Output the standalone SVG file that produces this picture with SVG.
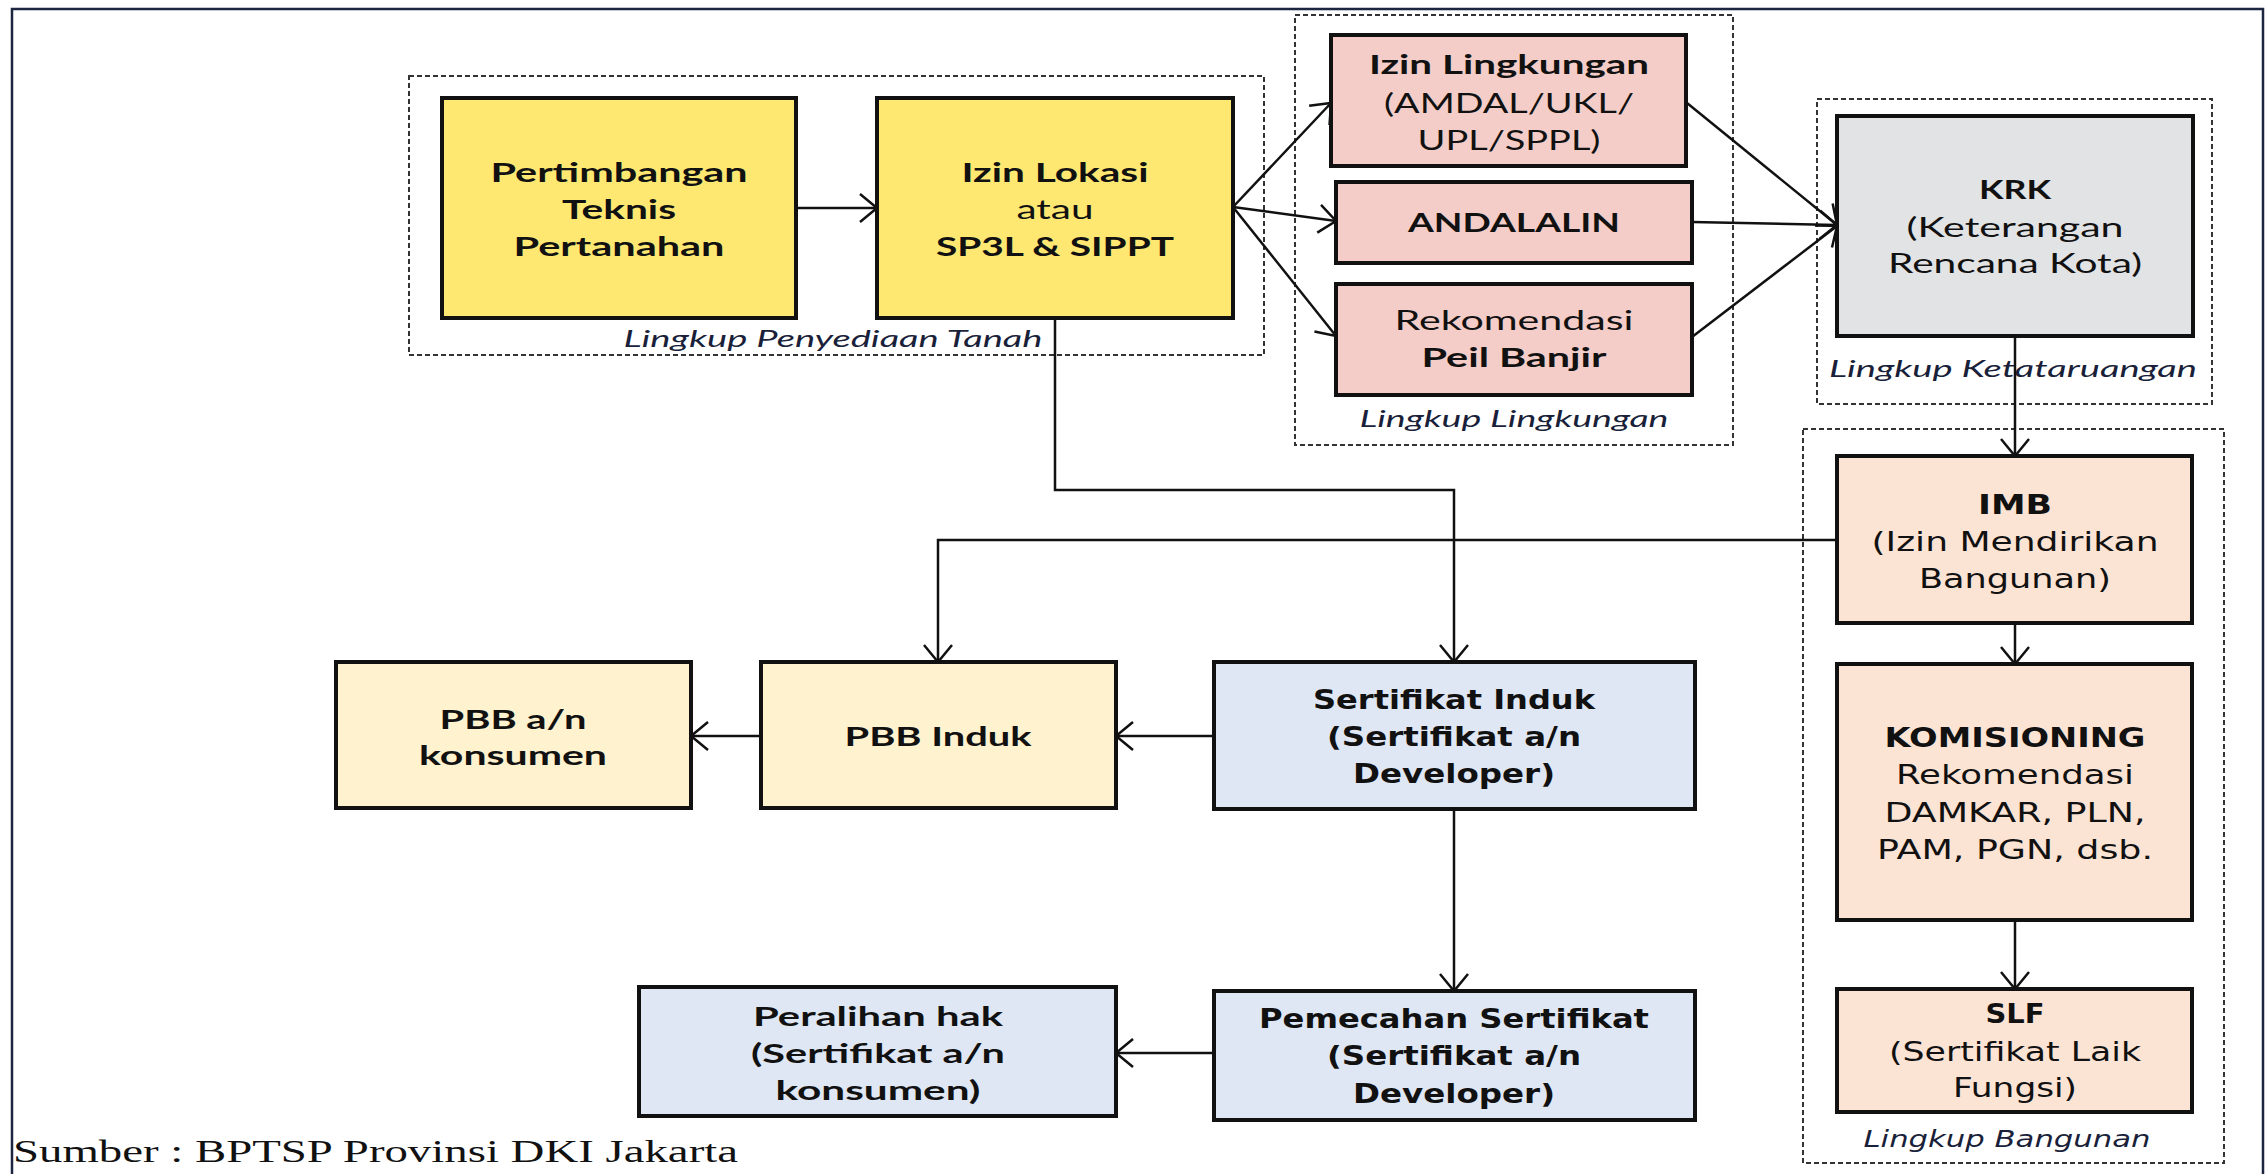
<svg xmlns="http://www.w3.org/2000/svg" width="2267" height="1174" viewBox="0 0 2267 1174">
<style>
.box{stroke:#111;stroke-width:4}
.yel{fill:#FEE872}
.pink{fill:#F4CDC8}
.grey{fill:#E2E3E5}
.peach{fill:#FCE4D5}
.cream{fill:#FFF2CE}
.blue{fill:#DFE7F4}
.grp{fill:none;stroke:#333;stroke-width:2;stroke-dasharray:5 3}
.con{fill:none;stroke:#111;stroke-width:2.5}
text{fill:#111;text-anchor:middle}
.c{font-family:Lato,"Liberation Sans",sans-serif;font-size:26px}
.v{font-family:"DejaVu Sans","Liberation Sans",sans-serif;font-size:26px}
.b{font-weight:bold}
.lab{font-style:italic;font-size:23px;fill:#1a1f3a}
.src{font-family:"Liberation Serif",serif;font-size:32px;text-anchor:start}
</style>
<defs>
<marker id="arr" viewBox="-20 -16 22 32" markerWidth="22" markerHeight="32" refX="0" refY="0" orient="auto" markerUnits="userSpaceOnUse">
<path d="M-17,-14 L0,0 L-17,14" fill="none" stroke="#111" stroke-width="2.5"/>
</marker>
</defs>
<rect x="12" y="9" width="2251" height="1200" fill="none" stroke="#1c2640" stroke-width="2.5"/>

<g id="groups">
<g id="grp-tanah"><rect class="grp" x="409" y="76" width="855" height="279"/><text class="c lab" x="833" y="347" textLength="419" lengthAdjust="spacingAndGlyphs">Lingkup Penyediaan Tanah</text></g>
<g id="grp-lingkungan"><rect class="grp" x="1295" y="15" width="438" height="430"/><text class="c lab" x="1514" y="427" textLength="309" lengthAdjust="spacingAndGlyphs">Lingkup Lingkungan</text></g>
<g id="grp-tata"><rect class="grp" x="1817" y="99" width="395" height="305"/><text class="c lab" x="2013" y="377" textLength="368" lengthAdjust="spacingAndGlyphs">Lingkup Ketataruangan</text></g>
<g id="grp-bangunan"><rect class="grp" x="1803" y="429" width="421" height="734"/><text class="v lab" x="2007" y="1147" textLength="287" lengthAdjust="spacingAndGlyphs">Lingkup Bangunan</text></g>
</g>

<g id="connectors">
<line class="con" x1="796" y1="208" x2="877" y2="208" marker-end="url(#arr)"/>
<line class="con" x1="1233" y1="207" x2="1331" y2="103" marker-end="url(#arr)"/>
<line class="con" x1="1233" y1="207" x2="1336" y2="221" marker-end="url(#arr)"/>
<line class="con" x1="1233" y1="207" x2="1336" y2="336" marker-end="url(#arr)"/>
<line class="con" x1="1687" y1="103" x2="1837" y2="225" marker-end="url(#arr)"/>
<line class="con" x1="1692" y1="222" x2="1837" y2="225" marker-end="url(#arr)"/>
<line class="con" x1="1692" y1="337" x2="1837" y2="226" marker-end="url(#arr)"/>
<line class="con" x1="2015" y1="282" x2="2015" y2="456" marker-end="url(#arr)"/>
<line class="con" x1="2015" y1="623" x2="2015" y2="664" marker-end="url(#arr)"/>
<line class="con" x1="2015" y1="920" x2="2015" y2="989" marker-end="url(#arr)"/>
<polyline class="con" points="1055,318 1055,490 1454,490 1454,662" marker-end="url(#arr)"/>
<polyline class="con" points="1837,540 938,540 938,662" marker-end="url(#arr)"/>
<line class="con" x1="1214" y1="736" x2="1116" y2="736" marker-end="url(#arr)"/>
<line class="con" x1="761" y1="736" x2="691" y2="736" marker-end="url(#arr)"/>
<line class="con" x1="1454" y1="809" x2="1454" y2="991" marker-end="url(#arr)"/>
<line class="con" x1="1214" y1="1053" x2="1116" y2="1053" marker-end="url(#arr)"/>
</g>

<g id="n-pertimbangan"><rect class="box yel" x="442" y="98" width="354" height="220"/>
<text class="c b" x="619" y="182" textLength="257" lengthAdjust="spacingAndGlyphs">Pertimbangan</text>
<text class="c b" x="619" y="219" textLength="114" lengthAdjust="spacingAndGlyphs">Teknis</text>
<text class="c b" x="619" y="256" textLength="211" lengthAdjust="spacingAndGlyphs">Pertanahan</text></g>

<g id="n-izinlokasi"><rect class="box yel" x="877" y="98" width="356" height="220"/>
<text class="c b" x="1055" y="182" textLength="187" lengthAdjust="spacingAndGlyphs">Izin Lokasi</text>
<text class="c" x="1055" y="219" textLength="77" lengthAdjust="spacingAndGlyphs">atau</text>
<text class="c b" x="1055" y="256" textLength="238" lengthAdjust="spacingAndGlyphs">SP3L &amp; SIPPT</text></g>

<g id="n-izinling"><rect class="box pink" x="1331" y="35" width="355" height="131"/>
<text class="c b" x="1509" y="74" textLength="280" lengthAdjust="spacingAndGlyphs">Izin Lingkungan</text>
<text class="c" x="1509" y="113" textLength="250" lengthAdjust="spacingAndGlyphs">(AMDAL/UKL/</text>
<text class="c" x="1509" y="150" textLength="183" lengthAdjust="spacingAndGlyphs">UPL/SPPL)</text></g>

<g id="n-andalalin"><rect class="box pink" x="1336" y="182" width="356" height="81"/>
<text class="c b" x="1514" y="232" textLength="212" lengthAdjust="spacingAndGlyphs">ANDALALIN</text></g>

<g id="n-peil"><rect class="box pink" x="1336" y="284" width="356" height="111"/>
<text class="c" x="1514" y="330" textLength="239" lengthAdjust="spacingAndGlyphs">Rekomendasi</text>
<text class="c b" x="1514" y="367" textLength="185" lengthAdjust="spacingAndGlyphs">Peil Banjir</text></g>

<g id="n-krk"><rect class="box grey" x="1837" y="116" width="356" height="220"/>
<text class="c b" x="2015" y="199" textLength="72" lengthAdjust="spacingAndGlyphs">KRK</text>
<text class="c" x="2015" y="237" textLength="217" lengthAdjust="spacingAndGlyphs">(Keterangan</text>
<text class="c" x="2015" y="273" textLength="254" lengthAdjust="spacingAndGlyphs">Rencana Kota)</text></g>

<g id="n-imb"><rect class="box peach" x="1837" y="456" width="355" height="167"/>
<text class="v b" x="2015" y="514" textLength="74" lengthAdjust="spacingAndGlyphs">IMB</text>
<text class="v" x="2015" y="551" textLength="287" lengthAdjust="spacingAndGlyphs">(Izin Mendirikan</text>
<text class="v" x="2015" y="588" textLength="192" lengthAdjust="spacingAndGlyphs">Bangunan)</text></g>

<g id="n-komisioning"><rect class="box peach" x="1837" y="664" width="355" height="256"/>
<text class="v b" x="2015" y="747" textLength="261" lengthAdjust="spacingAndGlyphs">KOMISIONING</text>
<text class="v" x="2015" y="784" textLength="238" lengthAdjust="spacingAndGlyphs">Rekomendasi</text>
<text class="v" x="2015" y="822" textLength="261" lengthAdjust="spacingAndGlyphs">DAMKAR, PLN,</text>
<text class="v" x="2015" y="859" textLength="276" lengthAdjust="spacingAndGlyphs">PAM, PGN, dsb.</text></g>

<g id="n-slf"><rect class="box peach" x="1837" y="989" width="355" height="123"/>
<text class="v b" x="2015" y="1023" textLength="59" lengthAdjust="spacingAndGlyphs">SLF</text>
<text class="v" x="2015" y="1061" textLength="252" lengthAdjust="spacingAndGlyphs">(Sertifikat Laik</text>
<text class="v" x="2015" y="1097" textLength="124" lengthAdjust="spacingAndGlyphs">Fungsi)</text></g>

<g id="n-sertinduk"><rect class="box blue" x="1214" y="662" width="481" height="147"/>
<text class="v b" x="1454" y="709" textLength="282" lengthAdjust="spacingAndGlyphs">Sertifikat Induk</text>
<text class="v b" x="1454" y="746" textLength="254" lengthAdjust="spacingAndGlyphs">(Sertifikat a/n</text>
<text class="v b" x="1454" y="783" textLength="202" lengthAdjust="spacingAndGlyphs">Developer)</text></g>

<g id="n-pemecahan"><rect class="box blue" x="1214" y="991" width="481" height="129"/>
<text class="v b" x="1454" y="1028" textLength="390" lengthAdjust="spacingAndGlyphs">Pemecahan Sertifikat</text>
<text class="v b" x="1454" y="1065" textLength="254" lengthAdjust="spacingAndGlyphs">(Sertifikat a/n</text>
<text class="v b" x="1454" y="1103" textLength="202" lengthAdjust="spacingAndGlyphs">Developer)</text></g>

<g id="n-pbbinduk"><rect class="box cream" x="761" y="662" width="355" height="146"/>
<text class="c b" x="938" y="746" textLength="187" lengthAdjust="spacingAndGlyphs">PBB Induk</text></g>

<g id="n-pbbkons"><rect class="box cream" x="336" y="662" width="355" height="146"/>
<text class="c b" x="513" y="729" textLength="147" lengthAdjust="spacingAndGlyphs">PBB a/n</text>
<text class="c b" x="513" y="765" textLength="188" lengthAdjust="spacingAndGlyphs">konsumen</text></g>

<g id="n-peralihan"><rect class="box blue" x="639" y="987" width="477" height="129"/>
<text class="c b" x="878" y="1026" textLength="250" lengthAdjust="spacingAndGlyphs">Peralihan hak</text>
<text class="c b" x="878" y="1063" textLength="254" lengthAdjust="spacingAndGlyphs">(Sertifikat a/n</text>
<text class="c b" x="878" y="1100" textLength="205" lengthAdjust="spacingAndGlyphs">konsumen)</text></g>

<text class="src" x="13" y="1162" textLength="725" lengthAdjust="spacingAndGlyphs">Sumber : BPTSP Provinsi DKI Jakarta</text>
</svg>
